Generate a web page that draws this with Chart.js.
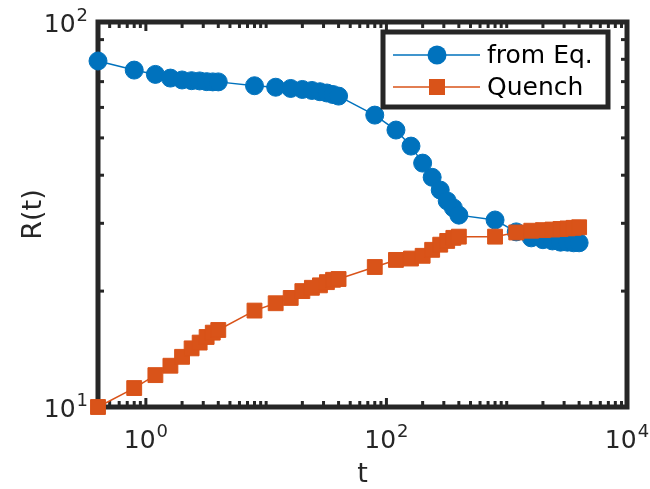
<!DOCTYPE html>
<html>
<head>
<meta charset="utf-8">
<script src="https://cdn.jsdelivr.net/npm/chart.js@4/dist/chart.umd.min.js"></script>
<style>
  body { margin: 0; background: #fff; }
</style>
</head>
<body>
<canvas id="chart" width="650" height="489"></canvas>
<script>
// time points (same for both series)
const tValues = [0.4, 0.8, 1.2, 1.6, 2, 2.4, 2.8, 3.2, 3.6, 4,
  8, 12, 16, 20, 24, 28, 32, 36, 40,
  80, 120, 160, 200, 240, 280, 320, 360, 400,
  800, 1200, 1600, 2000, 2400, 2800, 3200, 3600, 4000];

const fromEq = [79.2, 75.0, 73.1, 71.5, 70.7, 70.4, 70.3, 70.0, 69.9, 69.9,
  68.3, 67.7, 67.2, 66.8, 66.4, 65.9, 65.4, 64.8, 64.2,
  57.3, 52.4, 47.6, 43.0, 39.5, 36.6, 34.3, 32.9, 31.5,
  30.6, 28.5, 27.5, 27.2, 27.0, 26.8, 26.8, 26.7, 26.7];

const quench = [10.0, 11.2, 12.1, 12.8, 13.5, 14.2, 14.7, 15.2, 15.6, 15.85,
  17.8, 18.6, 19.2, 20.0, 20.4, 20.7, 21.1, 21.4, 21.5,
  23.1, 24.1, 24.3, 24.7, 25.6, 26.4, 27.0, 27.5, 27.7,
  27.7, 28.4, 28.7, 28.8, 28.9, 29.0, 29.1, 29.2, 29.3];

const seriesNames = ['from Eq.', 'Quench'];

// labelled ticks, given as [value, exponent]
const xTickLabels = [[1, '0'], [100, '2'], [10000, '4']];
const yTickLabels = [[10, '1'], [100, '2']];

const BLUE = '#0072BD';
const ORANGE = '#D95319';
const AXIS = '#262626';
const FONT = 'DejaVu Sans';

function minorTicks(lo, hi) {
  const out = [];
  for (let d = 0.1; d < hi; d *= 10) {
    for (let k = 1; k < 10; k++) {
      const v = Math.round(d * k * 1e6) / 1e6;
      if (v >= lo && v <= hi) out.push(v);
    }
  }
  return out;
}

function drawPow(ctx, exp, x, y, align) {
  // "10" with a raised exponent, baseline at y
  ctx.font = '25px "' + FONT + '"';
  const wBase = ctx.measureText('10').width;
  ctx.font = '18px "' + FONT + '"';
  const wExp = ctx.measureText(exp).width;
  const total = wBase + wExp + 1;
  let left = align === 'center' ? x - total / 2 : x - total;
  ctx.textAlign = 'left';
  ctx.textBaseline = 'alphabetic';
  ctx.font = '25px "' + FONT + '"';
  ctx.fillText('10', left, y);
  ctx.font = '18px "' + FONT + '"';
  ctx.fillText(exp, left + wBase + 1, y - 11);
}

const axesPlugin = {
  id: 'matlabAxes',
  beforeDatasetsDraw(chart) {
    const { ctx, chartArea: a, scales: { x, y } } = chart;
    ctx.save();
    ctx.strokeStyle = AXIS;
    ctx.lineCap = 'butt';

    const seg = (x1, y1, x2, y2) => {
      ctx.beginPath(); ctx.moveTo(x1, y1); ctx.lineTo(x2, y2); ctx.stroke();
    };

    ctx.lineWidth = 3;
    minorTicks(0.4, 10000).forEach(v => {
      const px = x.getPixelForValue(v);
      const len = xTickLabels.some(t => t[0] === v) ? 9 : 6;
      seg(px, a.bottom, px, a.bottom - len);
      seg(px, a.top, px, a.top + len);
    });
    minorTicks(10, 100).forEach(v => {
      const py = y.getPixelForValue(v);
      const len = yTickLabels.some(t => t[0] === v) ? 9 : 6;
      seg(a.left, py, a.left + len, py);
      seg(a.right, py, a.right - len, py);
    });

    ctx.lineWidth = 5;
    ctx.strokeRect(a.left, a.top, a.right - a.left, a.bottom - a.top);

    ctx.fillStyle = AXIS;
    xTickLabels.forEach(([v, e]) => drawPow(ctx, e, x.getPixelForValue(v), a.bottom + 41, 'center'));
    yTickLabels.forEach(([v, e]) => drawPow(ctx, e, a.left - 10, y.getPixelForValue(v) + 9.5, 'right'));

    ctx.font = '27px "' + FONT + '"';
    ctx.textAlign = 'center';
    ctx.textBaseline = 'alphabetic';
    ctx.fillText('t', (a.left + a.right) / 2, 482);
    ctx.translate(41, (a.top + a.bottom) / 2);
    ctx.rotate(-Math.PI / 2);
    ctx.fillText('R(t)', 0, 0);
    ctx.restore();
  },
  afterDatasetsDraw(chart) {
    const { ctx } = chart;
    ctx.save();
    ctx.fillStyle = '#fff';
    ctx.fillRect(383, 32, 225, 75);
    ctx.strokeStyle = AXIS;
    ctx.lineWidth = 5;
    ctx.strokeRect(383, 32, 225, 75);

    const rows = [[BLUE, 'circle', 55], [ORANGE, 'rect', 87]];
    rows.forEach(([col, shape, yy], i) => {
      ctx.strokeStyle = col;
      ctx.fillStyle = col;
      ctx.lineWidth = 1.5;
      ctx.beginPath(); ctx.moveTo(393, yy); ctx.lineTo(480, yy); ctx.stroke();
      if (shape === 'circle') {
        ctx.beginPath(); ctx.arc(437, yy, 9.5, 0, Math.PI * 2); ctx.fill();
      } else {
        ctx.fillRect(437 - 8, yy - 8, 16, 16);
      }
      ctx.fillStyle = '#000';
      ctx.font = '25px "' + FONT + '"';
      ctx.textAlign = 'left';
      ctx.textBaseline = 'alphabetic';
      ctx.fillText(seriesNames[i], 487, yy + 8);
    });
    ctx.restore();
  }
};

new Chart(document.getElementById('chart'), {
  type: 'line',
  data: {
    datasets: [
      {
        label: seriesNames[0],
        data: tValues.map((t, i) => ({ x: t, y: fromEq[i] })),
        borderColor: BLUE,
        backgroundColor: BLUE,
        borderWidth: 1.5,
        pointStyle: 'circle',
        pointRadius: 9,
        pointBorderWidth: 1,
        clip: false,
        order: 1,
      },
      {
        label: seriesNames[1],
        data: tValues.map((t, i) => ({ x: t, y: quench[i] })),
        borderColor: ORANGE,
        backgroundColor: ORANGE,
        borderWidth: 1.5,
        pointStyle: 'rect',
        pointRadius: 10.5,
        pointBorderWidth: 1,
        clip: false,
        order: 0,
      },
    ],
  },
  options: {
    responsive: false,
    animation: false,
    layout: { padding: { left: 98, right: 23, top: 22, bottom: 82 } },
    plugins: { legend: { display: false }, tooltip: { enabled: false } },
    scales: {
      x: { type: 'logarithmic', min: 0.4, max: 10000, display: false },
      y: { type: 'logarithmic', min: 10, max: 100, display: false },
    },
  },
  plugins: [axesPlugin],
});
</script>
</body>
</html>
